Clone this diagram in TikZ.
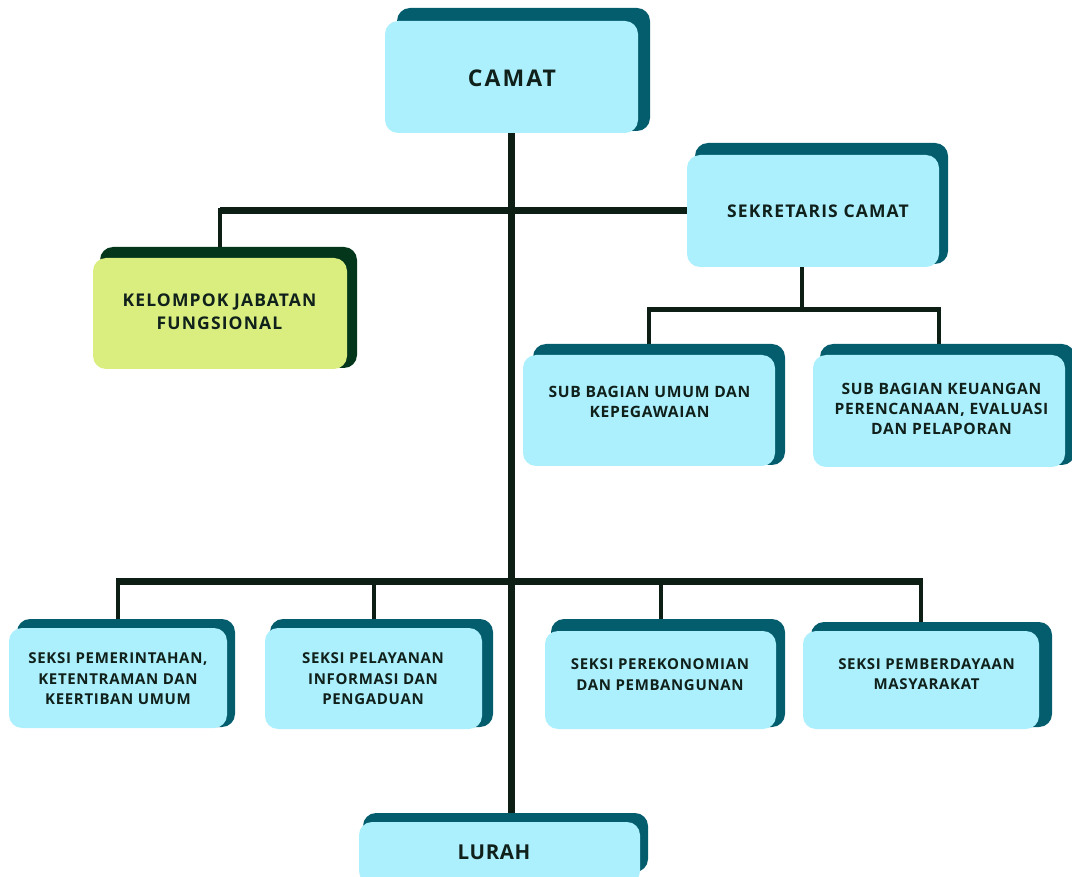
\documentclass[tikz,border=0pt]{standalone}
\usepackage{fontspec}
\setmainfont{Open Sans}
\newfontfamily\fsmall{Open Sans}[LetterSpace=4.5]
\newfontfamily\fmed{Open Sans}[LetterSpace=6.5]
\newfontfamily\fbig{Open Sans}[LetterSpace=9]
\newfontfamily\flur{Open Sans}[LetterSpace=3]
\usetikzlibrary{calc}
\definecolor{cyanf}{HTML}{ACEFFD}
\definecolor{tealsh}{HTML}{035D6D}
\definecolor{greenf}{HTML}{DAEE80}
\definecolor{greensh}{HTML}{03361A}
\definecolor{linec}{HTML}{0D1F14}
\definecolor{txtc}{HTML}{10201A}
\pgfdeclarelayer{bg}
\pgfsetlayers{bg,main}
\tikzset{
  fbox/.style={rounded corners=13pt, fill=cyanf, inner sep=0pt},
  gbox/.style={rounded corners=13pt, fill=greenf, inner sep=0pt},
  shb/.style={rounded corners=13pt, fill=tealsh},
  shg/.style={rounded corners=13pt, fill=greensh},
  lab/.style={text=txtc, font=\fsmall\bfseries\fontsize{15}{20.5}\selectfont, align=center, inner sep=0pt},
  labs/.style={text=txtc, font=\fsmall\bfseries\fontsize{15.6}{20.3}\selectfont, align=center, inner sep=0pt},
  labm/.style={text=txtc, font=\fmed\bfseries\fontsize{17.5}{23}\selectfont, align=center, inner sep=0pt},
  conthick/.style={draw=linec, line width=7pt},
  conthin/.style={draw=linec, line width=4pt},
}
\begin{document}
\begin{tikzpicture}[x=1pt,y=-1pt]
\useasboundingbox (0,0) rectangle (1072,877);
% front boxes
\node[fbox, minimum width=253pt, minimum height=112pt] (camat) at (511.5,77) {};
\node[fbox, minimum width=252pt, minimum height=112pt] (sek) at (813,211) {};
\node[gbox, minimum width=254pt, minimum height=111pt] (kel) at (220,313.5) {};
\node[fbox, minimum width=252pt, minimum height=111pt] (sbu) at (649,410.5) {};
\node[fbox, minimum width=252pt, minimum height=112pt] (sbk) at (939,411) {};
\node[fbox, minimum width=218pt, minimum height=100pt] (s1) at (118,678) {};
\node[fbox, minimum width=217pt, minimum height=101pt] (s2) at (373.5,678.5) {};
\node[fbox, minimum width=231pt, minimum height=98pt] (s3) at (660.5,680) {};
\node[fbox, minimum width=236pt, minimum height=98pt] (s4) at (921,680) {};
\node[fbox, minimum width=281pt, minimum height=62pt] (lurah) at (499.5,853) {};
% labels
\node[text=txtc, font=\fbig\bfseries\fontsize{23}{28}\selectfont, inner sep=0pt] (t-camat) at (512,78) {CAMAT};
\node[labm] (t-sek) at (818,211) {SEKRETARIS CAMAT};
\node[labm] (t-kel) at (219.5,312) {KELOMPOK JABATAN\\FUNGSIONAL};
\node[labs] (t-sbu) at (649.5,402) {SUB BAGIAN UMUM DAN\\KEPEGAWAIAN};
\node[labs] (t-sbk) at (941.5,409) {SUB BAGIAN KEUANGAN\\PERENCANAAN, EVALUASI\\DAN PELAPORAN};
\node[lab] (t-s1) at (118,679) {SEKSI PEMERINTAHAN,\\KETENTRAMAN DAN\\KEERTIBAN UMUM};
\node[lab] (t-s2) at (373,679) {SEKSI PELAYANAN\\INFORMASI DAN\\PENGADUAN};
\node[lab] (t-s3) at (660,674.5) {SEKSI PEREKONOMIAN\\DAN PEMBANGUNAN};
\node[lab] (t-s4) at (926.5,674) {SEKSI PEMBERDAYAAN\\MASYARAKAT};
\node[text=txtc, font=\flur\bfseries\fontsize{20.5}{24}\selectfont, inner sep=0pt] (t-lurah) at (494,852) {LURAH};
\begin{pgfonlayer}{bg}
% connectors
\coordinate (tj) at (512,210.5);
\coordinate (sj) at (802,310);
\coordinate (lj) at (512,581);
\draw[conthick] (camat.south) -- (camat.south |- lurah.north);
\draw[conthick] (sek.west) -- (sek.west -| kel.north);
\draw[conthin] ($(sek.west -| kel.north)+(0,-3)$) -- (kel.north);
\draw[conthin] (sek.south -| sj) -- (sj);
\draw[draw=linec, line width=5pt] ($(sbu.north |- sj)+(-2,0)$) -- ($(sbk.north |- sj)+(2,0)$);
\draw[conthin] (sbu.north |- sj) -- (sbu.north);
\draw[conthin] (sbk.north |- sj) -- (sbk.north);
\draw[conthick] ($(s1.north |- lj)+(-2,0)$) -- ($(s4.north |- lj)+(2,0)$);
\draw[conthin] ($(s1.north |- lj)+(0,-3)$) -- (s1.north);
\draw[conthin] ($(s2.north |- lj)+(0,-3)$) -- (s2.north);
\draw[conthin] ($(s3.north |- lj)+(0,-3)$) -- (s3.north);
\draw[conthin] ($(s4.north |- lj)+(0,-3)$) -- (s4.north);
% shadows
\fill[shb] (397,8) rectangle (650,131);
\fill[shb] (695,143) rectangle (948,264);
\fill[shg] (100,247) rectangle (357,368);
\fill[shb] (533,344) rectangle (785,465);
\fill[shb] (820,344) rectangle (1075,465);
\fill[shb] (17,619) rectangle (235,727);
\fill[shb] (270,619) rectangle (493,727);
\fill[shb] (551,619) rectangle (785,727);
\fill[shb] (811,622) rectangle (1052,727);
\fill[shb] (363,813) rectangle (648,872);
\end{pgfonlayer}
\end{tikzpicture}
\end{document}
